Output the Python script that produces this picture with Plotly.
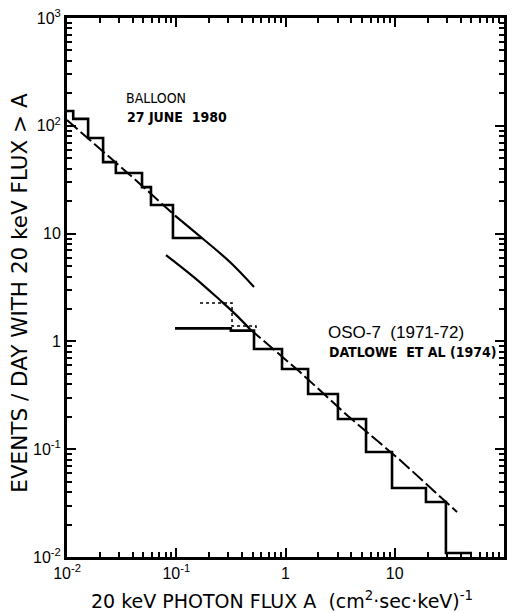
import plotly.graph_objects as go

# Balloon flight, 27 June 1980: integral event-rate histogram (left bin edges, N(>A))
balloon_edges = [0.01, 0.0114, 0.0156, 0.0214, 0.028, 0.0486, 0.0587, 0.0933, 0.172]
balloon_rate = [137, 116, 77, 46, 36.5, 27, 18.4, 9.1, 9.1]

# Power-law fit to the balloon data (dashed) and its extension (solid)
balloon_fit_a = [0.01, 0.0377, 0.0974]
balloon_fit_n = [113, 35.0, 14.7]
balloon_ext_a = [0.0974, 0.172, 0.310, 0.515]
balloon_ext_n = [14.7, 9.1, 5.45, 3.2]

# OSO-7 (1971-72) integral histogram, Datlowe et al. (1974)
oso_edges = [0.0974, 0.316, 0.515, 0.929, 1.61, 3.02, 5.46, 9.44, 19.3, 29.4, 50.9]
oso_rate = [1.32, 1.26, 0.851, 0.555, 0.325, 0.1906, 0.0942, 0.0437, 0.0324, 0.0109, 0.0109]

# OSO-7 alternative low-flux bins (dotted)
oso_alt_edges = [0.165, 0.324, 0.537, 0.537]
oso_alt_rate = [2.27, 1.39, 1.39, 1.26]

# Power-law fit to the OSO-7 data: solid extension and dashed fit
oso_ext_a = [0.0806, 0.1486, 0.251, 0.345, 0.473]
oso_ext_n = [6.33, 3.87, 2.42, 1.80, 1.30]
oso_fit_a = [0.473, 1.357, 3.73, 11.17, 37.2]
oso_fit_n = [1.30, 0.520, 0.203, 0.0794, 0.0261]

# Axis ticks
x_tick_vals = [0.01, 0.1, 1, 10, 100]
x_tick_text = ["10<sup>-2</sup>", "10<sup>-1</sup>", "1", "10", "10<sup>2</sup>"]
y_tick_vals = [0.01, 0.1, 1, 10, 100, 1000]
y_tick_text = ["10<sup>-2</sup>", "10<sup>-1</sup>", "1", "10", "10<sup>2</sup>", "10<sup>3</sup>"]

FONT = "Liberation Sans, Arial, sans-serif"
WIDE = "DejaVu Sans, Liberation Sans, sans-serif"
NARROW = "Liberation Sans Narrow, DejaVu Sans Condensed, Liberation Sans, sans-serif"
INK = "black"

fig = go.Figure()

fig.add_trace(go.Scatter(x=balloon_edges, y=balloon_rate, mode="lines",
                         line=dict(color=INK, width=2.6, shape="hv")))
fig.add_trace(go.Scatter(x=balloon_fit_a, y=balloon_fit_n, mode="lines",
                         line=dict(color=INK, width=2, dash="14px,4px")))
fig.add_trace(go.Scatter(x=balloon_ext_a, y=balloon_ext_n, mode="lines", line_shape="spline",
                         line=dict(color=INK, width=2.2)))
fig.add_trace(go.Scatter(x=oso_edges, y=oso_rate, mode="lines",
                         line=dict(color=INK, width=2.6, shape="hv")))
fig.add_trace(go.Scatter(x=oso_alt_edges, y=oso_alt_rate, mode="lines",
                         line=dict(color=INK, width=1.5, dash="dot", shape="hv")))
fig.add_trace(go.Scatter(x=oso_ext_a, y=oso_ext_n, mode="lines", line_shape="spline",
                         line=dict(color=INK, width=2.2)))
fig.add_trace(go.Scatter(x=oso_fit_a, y=oso_fit_n, mode="lines",
                         line=dict(color=INK, width=2, dash="14px,4px")))

def minor_vals(lo, hi):
    vals = []
    for e in range(lo, hi):
        for m in range(2, 10):
            vals.append(m * 10.0 ** e)
    return vals

axis_common = dict(
    type="log", showgrid=False, zeroline=False, automargin=False,
    showline=True, linewidth=3, linecolor=INK, mirror="ticks",
    ticks="inside", ticklen=9, tickwidth=2, tickcolor=INK,
    tickfont=dict(family=FONT, size=16, color=INK),
)

fig.update_xaxes(range=[-2, 2], tickvals=x_tick_vals, ticktext=x_tick_text,
                 minor=dict(tickvals=minor_vals(-2, 2), ticks="inside", ticklen=5,
                            tickwidth=1.5, tickcolor=INK, showgrid=False),
                 **axis_common)
fig.update_yaxes(range=[-2, 3], tickvals=y_tick_vals, ticktext=y_tick_text,
                 minor=dict(tickvals=minor_vals(-2, 3), ticks="inside", ticklen=5,
                            tickwidth=1.5, tickcolor=INK, showgrid=False),
                 **axis_common)

notes = [
    dict(text="BALLOON", x=0.130, y=0.851, font=dict(family=NARROW, size=14, color=INK)),
    dict(text="<b>27 JUNE  1980</b>", x=0.132, y=0.816, font=dict(family=NARROW, size=14, color=INK)),
    dict(text="OSO-7  (1971-72)", x=0.593, y=0.417, font=dict(family=FONT, size=17, color=INK)),
    dict(text="<b>DATLOWE  ET AL (1974)</b>", x=0.595, y=0.380, font=dict(family=NARROW, size=14, color=INK)),
]
for n in notes:
    fig.add_annotation(xref="paper", yref="paper", xanchor="left", yanchor="middle",
                       showarrow=False, **n)

fig.add_annotation(text="EVENTS / DAY WITH 20 keV FLUX > A", xref="paper", yref="paper",
                   x=-0.108, y=0.490, textangle=-90, showarrow=False,
                   xanchor="center", yanchor="middle",
                   font=dict(family=WIDE, size=21.5, color=INK))
fig.add_annotation(text="20 keV PHOTON FLUX A  (cm<sup>2</sup>·sec·keV)<sup>-1</sup>",
                   xref="paper", yref="paper", x=0.493, y=-0.080, showarrow=False,
                   xanchor="center", yanchor="middle",
                   font=dict(family=WIDE, size=19, color=INK))

fig.update_layout(
    width=514, height=613, autosize=False,
    margin=dict(l=67, r=10, t=18, b=56),
    paper_bgcolor="white", plot_bgcolor="white",
    showlegend=False,
)

fig.write_html("out.html", config={"responsive": False})
